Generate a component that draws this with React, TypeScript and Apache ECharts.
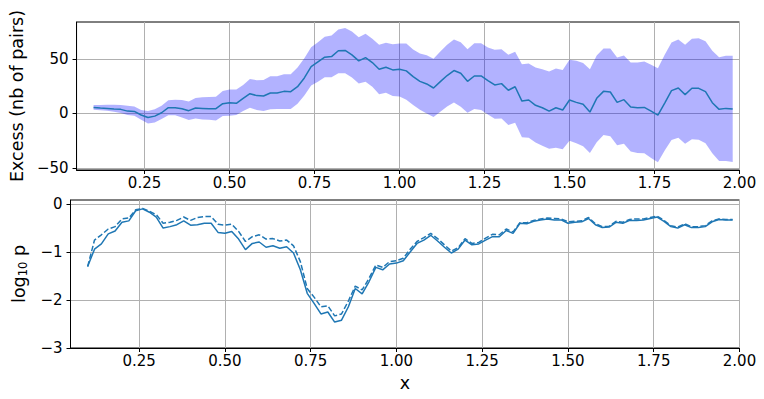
import React, { useEffect, useRef } from "react";
import * as echarts from "echarts";

const xs = [
  0.10, 0.12, 0.14, 0.16, 0.18, 0.20, 0.22, 0.24, 0.26, 0.28,
  0.30, 0.32, 0.34, 0.36, 0.38, 0.40, 0.42, 0.44, 0.46, 0.48,
  0.50, 0.52, 0.54, 0.56, 0.58, 0.60, 0.62, 0.64, 0.66, 0.68,
  0.70, 0.72, 0.74, 0.76, 0.78, 0.80, 0.82, 0.84, 0.86, 0.88,
  0.90, 0.92, 0.94, 0.96, 0.98, 1.00, 1.02, 1.04, 1.06, 1.08,
  1.10, 1.12, 1.14, 1.16, 1.18, 1.20, 1.22, 1.24, 1.26, 1.28,
  1.30, 1.32, 1.34, 1.36, 1.38, 1.40, 1.42, 1.44, 1.46, 1.48,
  1.50, 1.52, 1.54, 1.56, 1.58, 1.60, 1.62, 1.64, 1.66, 1.68,
  1.70, 1.72, 1.74, 1.76, 1.78, 1.80, 1.82, 1.84, 1.86, 1.88,
  1.90, 1.92, 1.94, 1.96, 1.98,
];

const excessMean = [
  5.5, 4.9, 4.6, 4.0, 3.7, 2.1, 1.8, -1.5, -3.7, -2.5,
  0.6, 5.2, 5.2, 4.3, 2.5, 4.9, 4.6, 4.3, 4.3, 8.9,
  9.8, 9.2, 13.8, 18.1, 16.3, 15.9, 18.7, 18.7, 20.2, 19.9,
  24.5, 32.5, 42.9, 47.2, 51.5, 52.1, 57.4, 57.7, 53.7, 48.2,
  51.2, 46.6, 40.5, 42.3, 39.9, 40.5, 39.0, 33.7, 29.4, 27.0,
  23.3, 29.1, 34.7, 39.3, 36.8, 29.4, 34.3, 34.3, 30.1, 26.1,
  27.3, 21.2, 24.4, 11.3, 12.3, 7.4, 5.2, 2.1, 5.2, 3.1,
  12.3, 10.1, 8.3, 1.2, 13.8, 20.2, 19.6, 10.1, 12.6, 5.8,
  5.2, 5.5, 2.1, -1.5, 9.5, 20.9, 23.3, 17.2, 23.0, 23.0,
  19.9, 9.8, 3.7, 4.6, 4.0,
];

const excessUpper = [
  7.7, 7.7, 8.0, 8.0, 7.7, 7.1, 6.4, 3.1, 2.1, 3.7,
  7.1, 12.0, 12.6, 12.3, 11.0, 14.1, 14.7, 15.0, 15.3, 20.5,
  21.8, 21.8, 26.1, 31.6, 30.4, 30.7, 34.0, 34.0, 35.9, 35.9,
  42.0, 50.5, 60.7, 65.3, 70.2, 71.5, 77.0, 78.2, 75.1, 69.9,
  73.0, 68.4, 62.9, 64.7, 63.5, 64.1, 64.1, 58.6, 54.9, 53.4,
  50.0, 56.7, 62.9, 67.8, 65.3, 58.9, 64.4, 64.4, 60.4, 58.3,
  58.9, 53.7, 56.5, 45.1, 45.7, 42.0, 40.5, 38.3, 41.1, 39.9,
  49.1, 48.2, 46.3, 40.5, 53.1, 59.5, 59.5, 51.2, 53.1, 46.6,
  46.6, 47.5, 44.5, 41.4, 53.7, 65.0, 67.8, 62.9, 68.4, 69.0,
  66.2, 57.4, 51.5, 52.8, 52.8,
];

const excessLower = [
  3.4, 2.8, 2.5, 1.5, 0.3, -1.5, -2.1, -5.8, -9.2, -8.3,
  -5.2, -1.8, -1.8, -3.7, -6.1, -4.6, -5.5, -5.8, -6.4, -2.5,
  -2.1, -1.5, 2.1, 5.2, 3.1, 2.1, 3.7, 4.0, 4.0, 4.0,
  8.8, 16.5, 25.5, 29.1, 33.1, 33.1, 36.8, 36.8, 32.8, 27.3,
  29.1, 24.5, 17.5, 19.0, 15.9, 15.6, 12.6, 7.7, 3.4, 0.0,
  -3.4, 1.5, 6.4, 10.1, 6.1, 0.6, 4.0, 3.1, -0.9, -4.9,
  -4.6, -10.7, -8.5, -21.8, -22.4, -26.7, -29.7, -32.5, -31.6, -32.8,
  -25.1, -27.3, -30.1, -36.2, -26.4, -19.9, -20.9, -29.1, -27.9, -35.0,
  -36.2, -36.5, -40.8, -44.8, -34.0, -24.5, -22.4, -27.9, -23.6, -24.2,
  -27.3, -36.5, -43.6, -43.6, -44.5,
];

const log10pSolid = [
  -1.30, -0.94, -0.83, -0.62, -0.56, -0.38, -0.35, -0.14, -0.10, -0.17,
  -0.27, -0.50, -0.47, -0.43, -0.35, -0.44, -0.43, -0.40, -0.40, -0.59,
  -0.61, -0.57, -0.73, -0.95, -0.82, -0.79, -0.90, -0.87, -0.92, -0.89,
  -1.02, -1.37, -1.86, -2.07, -2.29, -2.25, -2.46, -2.42, -2.14, -1.76,
  -1.87, -1.62, -1.32, -1.37, -1.25, -1.23, -1.18, -1.00, -0.82, -0.75,
  -0.65, -0.77, -0.90, -1.02, -0.94, -0.75, -0.85, -0.83, -0.75, -0.68,
  -0.68, -0.55, -0.61, -0.40, -0.41, -0.36, -0.33, -0.31, -0.33, -0.33,
  -0.40, -0.38, -0.37, -0.30, -0.43, -0.49, -0.48, -0.38, -0.40, -0.34,
  -0.34, -0.33, -0.30, -0.27, -0.36, -0.47, -0.50, -0.43, -0.49, -0.49,
  -0.47, -0.37, -0.32, -0.33, -0.33,
];

const log10pDashed = [
  -1.30, -0.75, -0.64, -0.52, -0.47, -0.31, -0.29, -0.12, -0.09, -0.15,
  -0.22, -0.40, -0.38, -0.34, -0.27, -0.34, -0.28, -0.26, -0.26, -0.42,
  -0.44, -0.42, -0.57, -0.78, -0.68, -0.64, -0.73, -0.72, -0.77, -0.75,
  -0.87, -1.20, -1.76, -1.94, -2.14, -2.12, -2.33, -2.29, -2.02, -1.71,
  -1.79, -1.55, -1.27, -1.32, -1.20, -1.18, -1.13, -0.94, -0.78, -0.70,
  -0.61, -0.72, -0.85, -0.98, -0.91, -0.72, -0.82, -0.80, -0.71, -0.63,
  -0.64, -0.52, -0.58, -0.39, -0.39, -0.34, -0.31, -0.29, -0.30, -0.31,
  -0.37, -0.36, -0.35, -0.28, -0.41, -0.47, -0.46, -0.36, -0.38, -0.32,
  -0.31, -0.31, -0.28, -0.25, -0.34, -0.45, -0.48, -0.41, -0.47, -0.47,
  -0.45, -0.35, -0.31, -0.32, -0.32,
];

const xTicks = [0.25, 0.5, 0.75, 1.0, 1.25, 1.5, 1.75, 2.0];
const excessTicks = [-50, 0, 50];
const logTicks = [-3, -2, -1, 0];

const FONT = "DejaVu Sans";
const LINE = "#1f77b4";
const fmtInt = (v: number) => (v < 0 ? "\u2212" + Math.abs(v) : String(v));

function xAxisCfg(gridIndex: number, withName: boolean) {
  return {
    type: "value",
    gridIndex,
    min: 0.05,
    max: 2.0,
    name: withName ? "x" : "",
    nameLocation: "middle",
    nameGap: 26,
    nameTextStyle: { fontFamily: FONT, fontSize: 17.5, color: "#000" },
    axisLine: { show: true, onZero: false, lineStyle: { color: "#000", width: 1 } },
    axisTick: { show: true, length: 4, customValues: xTicks, lineStyle: { color: "#000", width: 1 } },
    axisLabel: {
      customValues: xTicks,
      formatter: (v: number) => v.toFixed(2),
      fontFamily: FONT,
      fontSize: 15,
      color: "#000",
      margin: 5,
    },
    splitLine: { show: true, lineStyle: { color: "#b0b0b0", width: 1 } },
  };
}

function yAxisCfg(gridIndex: number, min: number, max: number, ticks: number[], name: string, nameGap: number) {
  return {
    type: "value",
    gridIndex,
    min,
    max,
    name,
    nameLocation: "middle",
    nameGap,
    nameTextStyle: {
      fontFamily: FONT,
      fontSize: 17.5,
      color: "#000",
      rich: {
        sub: { fontFamily: FONT, fontSize: 11.5, color: "#000", padding: [9, 0, 0, 0] },
        main: { fontFamily: FONT, fontSize: 17.5, color: "#000" },
      },
    },
    axisLine: { show: true, onZero: false, lineStyle: { color: "#000", width: 1 } },
    axisTick: { show: true, length: 4, customValues: ticks, lineStyle: { color: "#000", width: 1 } },
    axisLabel: {
      customValues: ticks,
      formatter: fmtInt,
      fontFamily: FONT,
      fontSize: 15,
      color: "#000",
      margin: 8,
    },
    splitLine: { show: true, lineStyle: { color: "#b0b0b0", width: 1 } },
  };
}

export default function App() {
  const ref = useRef<HTMLDivElement>(null);
  useEffect(() => {
    if (!ref.current) return;
    const chart = echarts.init(ref.current, null, { renderer: "svg" });
    const bandData = xs.map((x, i) => [x, excessUpper[i], excessLower[i]]);
    chart.setOption({
      animation: false,
      backgroundColor: "#fff",
      textStyle: { fontFamily: FONT },
      grid: [
        { left: 70.5, right: 24.5, top: 22, height: 148, show: true, borderColor: "#000", borderWidth: 1, backgroundColor: "transparent" },
        { left: 70.5, right: 24.5, top: 200, height: 148, show: true, borderColor: "#000", borderWidth: 1, backgroundColor: "transparent" },
      ],
      xAxis: [xAxisCfg(0, false), xAxisCfg(1, true)],
      yAxis: [
        yAxisCfg(0, -51.9, 83.8, excessTicks, "Excess (nb of pairs)", 48),
        yAxisCfg(1, -3, 0.085, logTicks, "{main|log}{sub|10}{main| p}", 36),
      ],
      series: [
        {
          type: "custom",
          xAxisIndex: 0,
          yAxisIndex: 0,
          data: bandData,
          encode: { x: 0, y: [1, 2] },
          silent: true,
          z: 1,
          renderItem: (params: any, api: any) => {
            if (params.dataIndex !== 0) return null;
            const pts: number[][] = [];
            for (let i = 0; i < xs.length; i++) pts.push(api.coord([xs[i], excessUpper[i]]));
            for (let i = xs.length - 1; i >= 0; i--) pts.push(api.coord([xs[i], excessLower[i]]));
            return {
              type: "polygon",
              shape: { points: pts },
              style: { fill: "rgba(0,0,255,0.3)", stroke: "none" },
            };
          },
        },
        {
          type: "line",
          xAxisIndex: 0,
          yAxisIndex: 0,
          data: xs.map((x, i) => [x, excessMean[i]]),
          showSymbol: false,
          symbol: "none",
          lineStyle: { color: LINE, width: 1.5 },
          z: 3,
        },
        {
          type: "line",
          xAxisIndex: 1,
          yAxisIndex: 1,
          data: xs.map((x, i) => [x, log10pSolid[i]]),
          symbol: "none",
          lineStyle: { color: LINE, width: 1.5 },
          z: 3,
        },
        {
          type: "line",
          xAxisIndex: 1,
          yAxisIndex: 1,
          data: xs.map((x, i) => [x, log10pDashed[i]]),
          symbol: "none",
          lineStyle: { color: LINE, width: 1.5, type: [5.5, 2.4] },
          z: 3,
        },
      ],
    });
    return () => chart.dispose();
  }, []);
  return (
    <div
      ref={ref}
      style={{ position: "fixed", left: 0, top: 0, width: 764, height: 399, background: "#fff" }}
    />
  );
}
